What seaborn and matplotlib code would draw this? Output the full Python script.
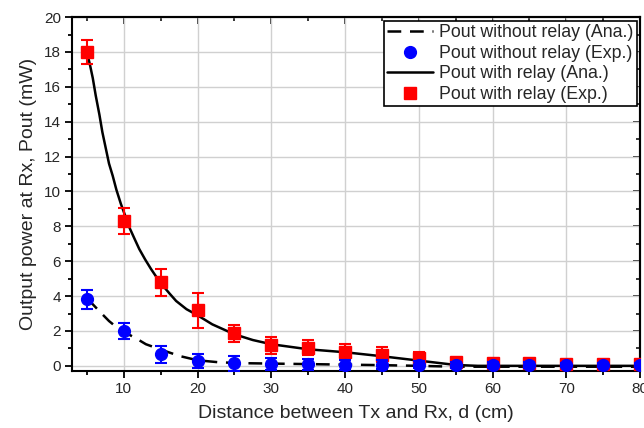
import matplotlib
matplotlib.use('Agg')
import matplotlib.pyplot as plt
import pandas as pd
import seaborn as sns
import numpy as np
from matplotlib.ticker import MultipleLocator

# distances of the measurements
d_exp = [5, 10, 15, 20, 25, 30, 35, 40, 45, 50, 55, 60, 65, 70, 75, 80]

# measured power with relay (red squares) and its error
p_relay_exp = [18.0, 8.3, 4.78, 3.19, 1.87, 1.18, 1.05, 0.78, 0.65, 0.45,
               0.2, 0.18, 0.15, 0.1, 0.12, 0.1]
e_relay_exp = [0.7, 0.75, 0.75, 1.0, 0.5, 0.5, 0.45, 0.45, 0.45, 0.35,
               0.2, 0.2, 0.15, 0.1, 0.12, 0.12]

# measured power without relay (blue circles) and its error
p_norelay_exp = [3.82, 2.0, 0.66, 0.28, 0.14, 0.1, 0.08, 0.07, 0.06, 0.05,
                 0.05, 0.05, 0.05, 0.04, 0.04, 0.04]
e_norelay_exp = [0.55, 0.48, 0.48, 0.38, 0.42, 0.35, 0.3, 0.28, 0.25, 0.2,
                 0.15, 0.15, 0.15, 0.1, 0.1, 0.1]

# analytical curve with relay (solid)
d_relay_ana = [5.0, 5.4, 5.8, 6.2, 6.7, 7.1, 7.6, 8.0, 8.5, 9.0, 9.6, 10.2,
               10.8, 11.5, 12.1, 12.9, 13.7, 14.5, 15.3, 16.2, 17.1, 18.5,
               20, 22, 25, 27.5, 30, 35, 40, 45, 50, 55, 58, 65, 70, 80]
p_relay_ana = [18.0, 17.3, 16.5, 15.5, 14.4, 13.4, 12.4, 11.6, 10.9, 10.1,
               9.3, 8.6, 7.9, 7.25, 6.7, 6.1, 5.55, 5.05, 4.6, 4.15, 3.72,
               3.25, 2.9, 2.38, 1.81, 1.48, 1.24, 0.95, 0.78, 0.55, 0.3,
               0.05, 0.0, 0.0, 0.0, 0.0]

# analytical curve without relay (dashed)
d_norelay_ana = [5.0, 5.8, 7.0, 8.0, 9.5, 11.5, 13.0, 14.9, 17.6, 20, 23,
                 26.6, 30, 35, 40, 45, 50, 55, 60, 70, 80]
p_norelay_ana = [3.82, 3.53, 3.0, 2.57, 2.05, 1.62, 1.24, 0.95, 0.56, 0.32,
                 0.2, 0.15, 0.13, 0.1, 0.07, 0.04, 0.0, -0.05, -0.05, -0.05,
                 -0.05]

sns.set_style('white')
plt.rcParams['font.family'] = ['Liberation Sans', 'DejaVu Sans']

fig = plt.figure(figsize=(6.44, 4.28), dpi=100)
ax = fig.add_axes([0.112, 0.133, 0.882, 0.827])

df_na = pd.DataFrame({'d': d_norelay_ana, 'p': p_norelay_ana})
df_ra = pd.DataFrame({'d': d_relay_ana, 'p': p_relay_ana})

sns.lineplot(data=df_na, x='d', y='p', ax=ax, color='black', lw=1.8,
             linestyle=(0, (5.5, 3.5)), label='Pout without relay (Ana.)',
             zorder=3)

# experimental points with error bars
ax.errorbar(d_exp, p_relay_exp, yerr=e_relay_exp, fmt='none', ecolor='red',
            elinewidth=1.5, capsize=4, capthick=1.5, zorder=4)
ax.errorbar(d_exp, p_norelay_exp, yerr=e_norelay_exp, fmt='none',
            ecolor='blue', elinewidth=1.5, capsize=4, capthick=1.5, zorder=5)

sns.lineplot(data=df_ra, x='d', y='p', ax=ax, color='black', lw=1.8,
             label='Pout with relay (Ana.)', zorder=3)

ax.plot(d_exp, p_norelay_exp, 'o', color='blue', ms=8.5, zorder=6,
        label='Pout without relay (Exp.)')
ax.plot(d_exp, p_relay_exp, 's', color='red', ms=8, zorder=4.5,
        label='Pout with relay (Exp.)')

ax.set_xlim(3, 80)
ax.set_ylim(-0.3, 20)
ax.xaxis.set_major_locator(MultipleLocator(10))
ax.xaxis.set_minor_locator(MultipleLocator(5))
ax.yaxis.set_major_locator(MultipleLocator(2))
ax.yaxis.set_minor_locator(MultipleLocator(1))
ax.set_xticks([10, 20, 30, 40, 50, 60, 70, 80])

ax.grid(True, which='major', color='#d0d0d0', lw=1)
for s in ax.spines.values():
    s.set_color('black')
    s.set_linewidth(1.5)

ax.tick_params(which='both', left=True, bottom=True, labelsize=11,
               color='black', direction='out', top=False, right=False)
ax.tick_params(which='major', length=5, width=1.3, pad=3)
ax.tick_params(which='minor', length=3, width=1.3)

# mirrored top/right ticks point inward
ax2 = ax.secondary_xaxis('top')
ax2.xaxis.set_major_locator(MultipleLocator(10))
ax2.xaxis.set_minor_locator(MultipleLocator(5))
ax2.tick_params(which='both', direction='in', width=1.3, labeltop=False)
ax2.tick_params(which='major', length=5)
ax2.tick_params(which='minor', length=3)
ax3 = ax.secondary_yaxis('right')
ax3.yaxis.set_major_locator(MultipleLocator(2))
ax3.yaxis.set_minor_locator(MultipleLocator(1))
ax3.tick_params(which='both', direction='in', width=1.3, labelright=False)
ax3.tick_params(which='major', length=5)
ax3.tick_params(which='minor', length=3)
for a in (ax2, ax3):
    for s in a.spines.values():
        s.set_linewidth(1.5)

ax.set_xlabel('Distance between Tx and Rx, d (cm)', fontsize=14, labelpad=6)
ax.set_ylabel('Output power at Rx, Pout (mW)', fontsize=14, labelpad=5)

h, l = ax.get_legend_handles_labels()
order = ['Pout without relay (Ana.)', 'Pout without relay (Exp.)',
         'Pout with relay (Ana.)', 'Pout with relay (Exp.)']
hd = dict(zip(l, h))
leg = ax.legend([hd[k] for k in order], order, loc='upper right',
                fontsize=12.8, frameon=True, fancybox=False, framealpha=1,
                edgecolor='black', borderaxespad=0.2, labelspacing=0.2,
                handlelength=2.6, handletextpad=0.3, borderpad=0.2)
leg.get_frame().set_linewidth(1.2)

fig.savefig('out.png', dpi=100)
